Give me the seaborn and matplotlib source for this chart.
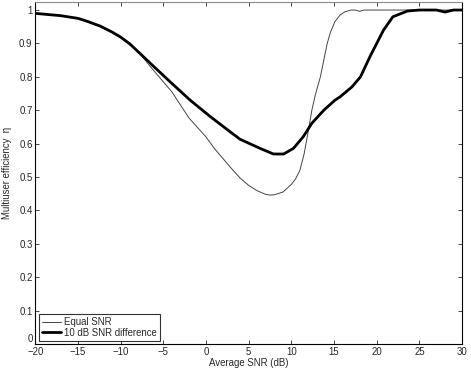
import numpy as np
import matplotlib
matplotlib.use('Agg')
import matplotlib.pyplot as plt
import pandas as pd
import seaborn as sns

snr_equal = [-20, -17, -15, -14, -12.4, -11, -10, -8, -6.5, -5, -4, -2, 0, 1, 2, 3, 4,
             5, 6, 7, 7.5, 8, 9, 10, 10.5, 11, 11.5, 12, 12.4, 12.8, 13.4, 14.2, 14.6,
             15.1, 15.7, 16.3, 17, 17.5, 18, 18.5, 20, 25, 30]
eff_equal = [0.99, 0.983, 0.974, 0.966, 0.95, 0.932, 0.917, 0.878, 0.83, 0.785, 0.755,
             0.677, 0.62, 0.585, 0.555, 0.525, 0.497, 0.475, 0.459, 0.448, 0.446,
             0.447, 0.455, 0.478, 0.495, 0.52, 0.57, 0.64, 0.70, 0.745, 0.80, 0.90,
             0.935, 0.965, 0.985, 0.995, 1.0, 1.0, 0.996, 1.0, 1.0, 1.0, 1.0]

snr_diff = [-20, -17, -15, -14, -12.4, -11, -10, -8.9, -6.5, -4.2, -1.85, 0.5, 2.8, 4,
            5.2, 6.5, 7.9, 9.1, 10.25, 11.4, 12.4, 13.8, 15.1, 15.7, 17.1, 18.1, 19.2,
            20.8, 21.9, 23.6, 25, 27, 28, 29, 30]
eff_diff = [0.99, 0.983, 0.975, 0.967, 0.952, 0.934, 0.919, 0.898, 0.84, 0.785, 0.73,
            0.681, 0.636, 0.613, 0.599, 0.584, 0.569, 0.569, 0.586, 0.621, 0.661, 0.70,
            0.73, 0.74, 0.77, 0.80, 0.86, 0.94, 0.98, 0.997, 1.0, 1.0, 0.994, 1.0, 1.0]

labels = ['Equal SNR', '10 dB SNR difference']
x_ticks = [-20, -15, -10, -5, 0, 5, 10, 15, 20, 25, 30]
y_ticks = [0, 0.1, 0.2, 0.3, 0.4, 0.5, 0.6, 0.7, 0.8, 0.9, 1]
y_tick_labels = ['0', '0.1', '0.2', '0.3', '0.4', '0.5', '0.6', '0.7', '0.8', '0.9', '1']

df = pd.concat([
    pd.DataFrame({'snr': snr_equal, 'eff': eff_equal, 'curve': labels[0]}),
    pd.DataFrame({'snr': snr_diff, 'eff': eff_diff, 'curve': labels[1]}),
])

sns.set_style('ticks')
plt.rcParams['font.family'] = ['Liberation Sans', 'DejaVu Sans']
fs = 6.9

fig = plt.figure(figsize=(4.71, 3.74), dpi=100)
ax = fig.add_axes([0.075, 0.080, 0.906, 0.9155])

sns.lineplot(data=df, x='snr', y='eff', hue='curve', size='curve',
             palette={labels[0]: '#444444', labels[1]: 'black'},
             sizes={labels[0]: 0.7, labels[1]: 2.0}, ax=ax)
for ln in ax.lines:
    ln.set_solid_joinstyle('round')

ax.set_xlim(-20, 30)
ax.set_ylim(0, 1.025)
ax.set_xticks(x_ticks)
ax.set_xticklabels([str(t).replace('-', '\u2212') for t in x_ticks])
ax.set_yticks(y_ticks)
ax.set_yticklabels(y_tick_labels)
ax.get_yticklabels()[0].set_verticalalignment('bottom')
ax.tick_params(direction='in', length=3, width=0.6, labelsize=fs,
               top=True, right=True, pad=2)
for s in ax.spines.values():
    s.set_linewidth(0.8)
    s.set_color('black')
ax.spines['top'].set_color('#888888')

ax.set_xlabel('Average SNR (dB)', fontsize=fs, labelpad=1)
ax.set_ylabel('Multiuser efficiency  \u03b7', fontsize=fs, labelpad=5)

leg = ax.legend(loc='lower left', fontsize=fs, frameon=True, fancybox=False,
                handlelength=2.0, borderpad=0.3, labelspacing=0.05,
                borderaxespad=0.35, handletextpad=0.35)
leg.get_frame().set_edgecolor('black')
leg.get_frame().set_linewidth(0.8)

fig.savefig('out.png', dpi=100)
